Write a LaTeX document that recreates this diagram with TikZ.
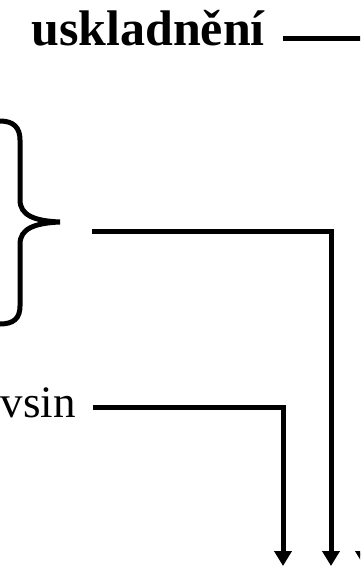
\documentclass[tikz,border=0pt]{standalone}
\usepackage{fontspec}
\setmainfont{Liberation Serif}
\usetikzlibrary{arrows.meta}
\tikzset{
  conn/.style={line width=5pt, -{Triangle[width=17pt,length=15pt]}},
  lbl/.style={inner sep=0pt, font=\fontsize{50}{50}\selectfont},
}
\begin{document}
\begin{tikzpicture}[x=1pt,y=-1pt]
  \useasboundingbox (0,0) rectangle (360,570);
  \clip (0,0) rectangle (360,570);
  % labels
  \node[lbl, font=\fontsize{50}{50}\selectfont\bfseries, anchor=base east] (usk) at (265,45) {uskladnění};
  \node[lbl, font=\fontsize{45}{45}\selectfont, anchor=base west] (vys) at (0.5,417) {vsin};
  % brace
  \draw[line width=5pt, line cap=round] (0,121) .. controls (14,121) and (20,128) .. (20,140)
    -- (20,200) .. controls (20,215) and (34,221) .. (60,222)
    .. controls (34,223) and (20,229) .. (20,244)
    -- (20,306) .. controls (20,318) and (14,324) .. (0,324);
  \coordinate (br) at (92,231);
  % corners and ends
  \coordinate (k1) at (283,407);
  \coordinate (k2) at (331,231);
  \coordinate (k3) at (364,38);
  \coordinate (bot) at (0,566);
  \draw[conn] ([xshift=17pt]vys.east |- k1) -- (k1) -- (k1 |- bot);
  \draw[conn] (br) -- (k2) -- (k2 |- bot);
  \draw[conn] ([xshift=18pt]usk.east |- k3) -- (k3) -- (k3 |- bot);
\end{tikzpicture}
\end{document}
